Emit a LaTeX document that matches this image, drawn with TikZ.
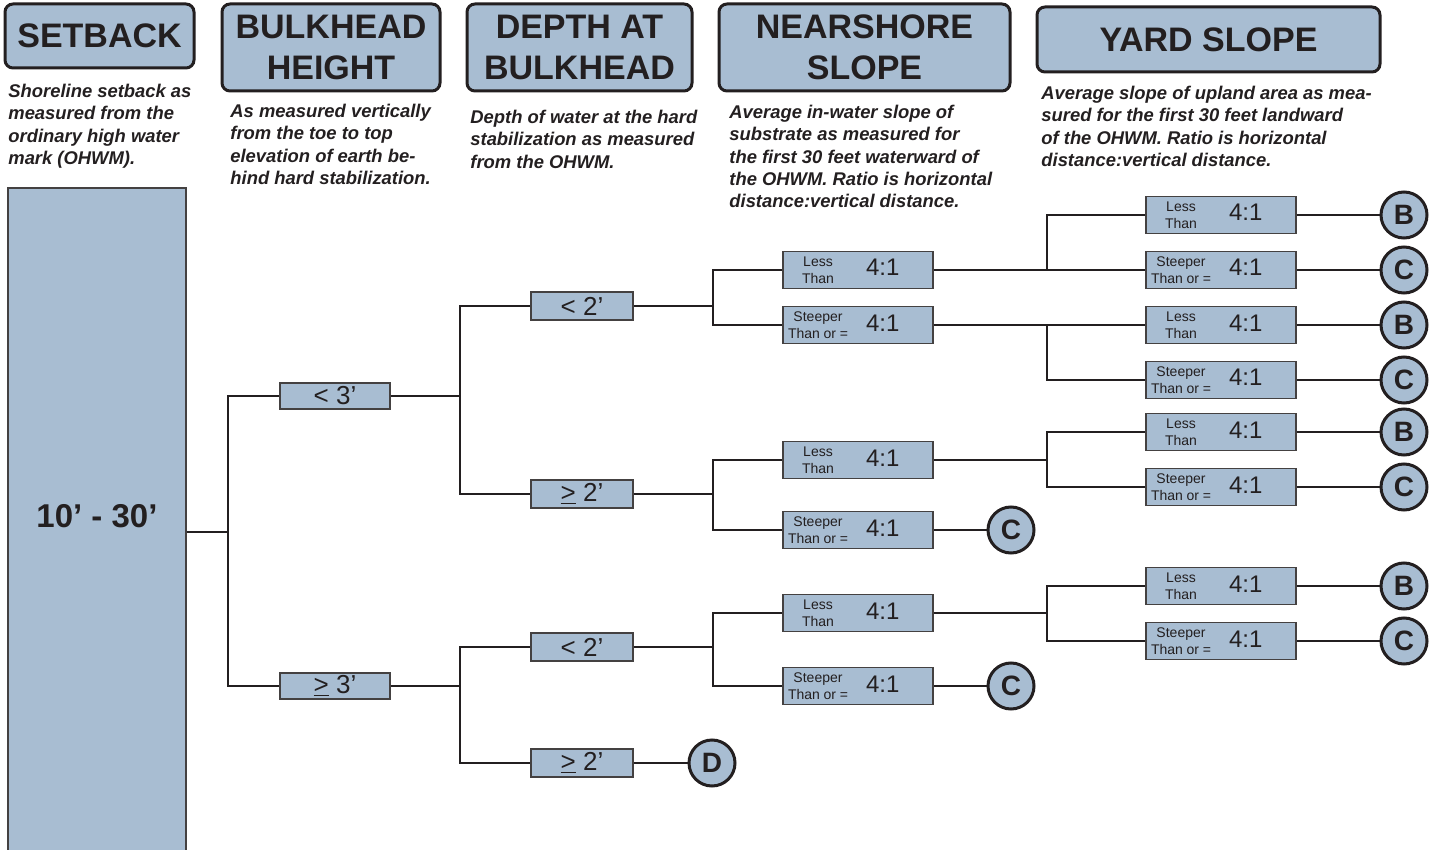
\documentclass[tikz,border=0pt]{standalone}
\usepackage{fontspec}
\setmainfont{Liberation Sans}
\usetikzlibrary{positioning}
\usetikzlibrary{calc}

\definecolor{boxblue}{HTML}{A8BDD2}
\definecolor{ink}{HTML}{231F20}

\tikzset{
  header/.style={draw=ink, line width=1.5pt, rounded corners=4pt, fill=boxblue, align=center,
    font=\fontsize{17}{20.5}\selectfont\bfseries, text=ink, inner sep=0pt},
  note/.style={anchor=north west, align=left, inner sep=0pt,
    font=\fontsize{9.2}{11.1}\selectfont\bfseries\itshape, text=ink},
  valbox/.style={draw=ink!85, line width=0.8pt, fill=boxblue, inner sep=0pt,
    font=\fontsize{13}{13}\selectfont, text=ink},
  slopebox/.style={valbox, minimum width=75pt, minimum height=18.5pt},
  result/.style={circle, draw=ink, line width=1.5pt, fill=boxblue, minimum size=23pt,
    inner sep=0pt, font=\fontsize{14}{14}\selectfont\bfseries, text=ink},
  link/.style={draw=ink, line width=1.3pt},
}

\newcommand{\slopetxt}[1]{\makebox[75pt][l]{\hspace{2.5pt}\parbox[c]{30pt}{\centering\fontsize{7}{8.3}\selectfont #1}\hspace{9pt}{\fontsize{12}{12}\selectfont 4:1}}}
\newcommand{\lessthan}{\slopetxt{Less\\Than}}
\newcommand{\steeper}{\slopetxt{Steeper\\Than or =}}
\newcommand{\atleast}{\underline{>}}

\begin{document}
\begin{tikzpicture}[x=0.5pt, y=-0.5pt]
  \useasboundingbox (0,0) rectangle (1435,850);

  % column headers
  \node[header, minimum width=94.5pt, minimum height=32pt] (hSet) at (99.5,36) {SETBACK};
  \node[header, minimum width=109pt, minimum height=43.5pt] (hBulk) at (331,47.5) {BULKHEAD\\HEIGHT};
  \node[header, minimum width=112.5pt, minimum height=43.5pt] (hDepth) at (579.5,47.5) {DEPTH AT\\BULKHEAD};
  \node[header, minimum width=145.5pt, minimum height=43.5pt] (hNear) at (864.5,47.5) {NEARSHORE\\SLOPE};
  \node[header, minimum width=171.5pt, minimum height=32.5pt] (hYard) at (1208.5,39.5) {YARD SLOPE};

  \node[note] (nSet) at (8,84) {Shoreline setback as\\measured from the\\ordinary high water\\mark (OHWM).};
  \node[note] (nBulk) at (230,104) {As measured vertically\\from the toe to top\\elevation of earth be-\\hind hard stabilization.};
  \node[note] (nDepth) at (470,110) {Depth of water at the hard\\stabilization as measured\\from the OHWM.};
  \node[note] (nNear) at (729,105) {Average in-water slope of\\substrate as measured for\\the first 30 feet waterward of\\the OHWM. Ratio is horizontal\\distance:vertical distance.};
  \node[note] (nYard) at (1041,86) {Average slope of upland area as mea-\\sured for the first 30 feet landward\\of the OHWM. Ratio is horizontal\\distance:vertical distance.};

  % setback column
  \node[valbox, minimum width=89pt, minimum height=332pt,
        font=\fontsize{16.5}{16.5}\selectfont\bfseries] (setback) at (97,520) {\raisebox{4pt}{10’ - 30’}};

  % bulkhead height and depth
  \foreach \name/\y/\txt in {bhA/396/{< 3’}, bhB/686/{\atleast\ 3’}}
    \node[valbox, minimum width=55pt, minimum height=13pt] (\name) at (335,\y) {\txt};
  \foreach \name/\y/\txt in {dpA/306/{< 2’}, dpB/494/{\atleast\ 2’}, dpC/647/{< 2’}, dpD/763/{\atleast\ 2’}}
    \node[valbox, minimum width=51pt, minimum height=14pt] (\name) at (582,\y) {\txt};

  % nearshore slope
  \foreach \name/\y/\txt in {nsA/270/\lessthan, nsB/325/\steeper, nsC/460/\lessthan,
                             nsD/530/\steeper, nsE/613/\lessthan, nsF/686/\steeper}
    \node[slopebox] (\name) at (858,\y) {\txt};

  % yard slope with outcomes
  \foreach \name/\y/\txt/\res in {ysA/215/\lessthan/B, ysB/270/\steeper/C, ysC/325/\lessthan/B,
                                  ysD/380/\steeper/C, ysE/432/\lessthan/B, ysF/487/\steeper/C,
                                  ysG/586/\lessthan/B, ysH/641/\steeper/C} {
    \node[slopebox] (\name) at (1221,\y) {\txt};
    \node[result] (r\name) at (1404,\y) {\res};
    \draw[link] (\name) -- (r\name);
  }

  \node[result] (rD) at (712,763) {D};
  \node[result] (rC1) at (1011,530) {C};
  \node[result] (rC2) at (1011,686) {C};

  % branches
  \draw[link] ([yshift=-6pt]setback.east) -- ++(41,0) |- (bhA.west);
  \draw[link] ([yshift=-6pt]setback.east) -- ++(41,0) |- (bhB.west);
  \foreach \p/\c/\dx in {bhA/dpA/69, bhA/dpB/69, bhB/dpC/69, bhB/dpD/69,
                         dpA/nsA/79, dpA/nsB/79, dpB/nsC/79, dpB/nsD/79, dpC/nsE/79, dpC/nsF/79,
                         nsA/ysA/113, nsA/ysB/113, nsB/ysC/113, nsB/ysD/113,
                         nsC/ysE/113, nsC/ysF/113, nsE/ysG/113, nsE/ysH/113}
    \draw[link] (\p.east) -- ++(\dx,0) |- (\c.west);

  \draw[link] (dpD) -- (rD);
  \draw[link] (nsD) -- (rC1);
  \draw[link] (nsF) -- (rC2);

\end{tikzpicture}
\end{document}
